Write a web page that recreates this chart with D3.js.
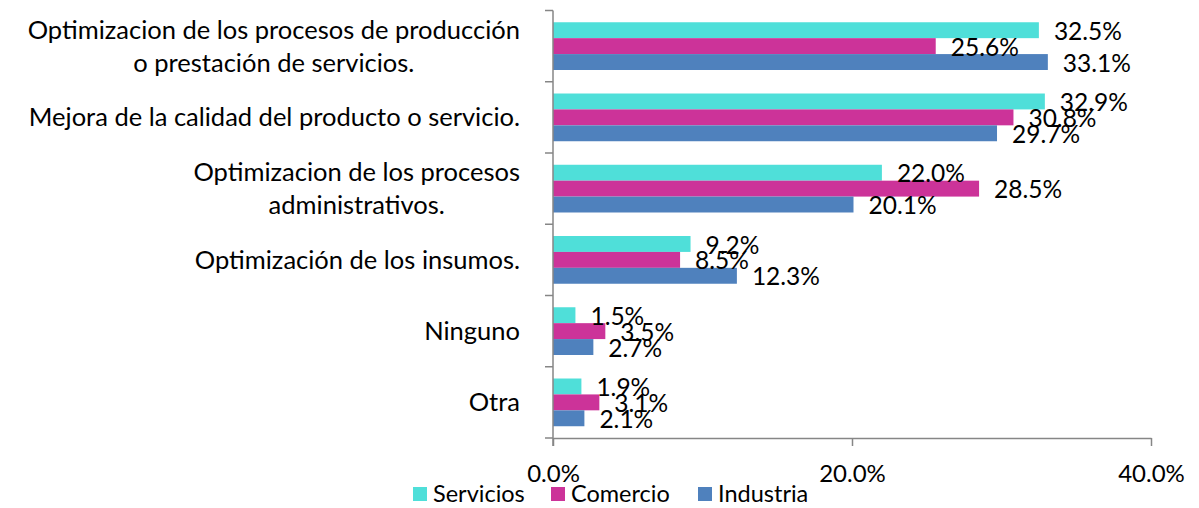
<!DOCTYPE html>
<html>
<head>
<meta charset="utf-8">
<script src="https://cdn.jsdelivr.net/npm/d3@7/dist/d3.min.js"></script>
<style>
  html, body { margin: 0; padding: 0; background: #fff; }
  svg { display: block; font-family: Lato, "Open Sans", sans-serif; }
</style>
</head>
<body>
<svg id="chart" width="1199" height="508"></svg>
<script>
const categories = [
  ["Optimizacion de los procesos de producción", "o prestación de servicios."],
  ["Mejora de la calidad del producto o servicio."],
  ["Optimizacion de los procesos", "administrativos."],
  ["Optimización de los insumos."],
  ["Ninguno"],
  ["Otra"]
];
const seriesNames = ["Servicios", "Comercio", "Industria"];
const servicios = [32.5, 32.9, 22.0, 9.2, 1.5, 1.9];
const comercio  = [25.6, 30.8, 28.5, 8.5, 3.5, 3.1];
const industria = [33.1, 29.7, 20.1, 12.3, 2.7, 2.1];
const xTicks = [0, 20, 40];
const colors = ["#4FDFD9", "#CC3399", "#4F81BD"];

(function () {
const seriesValues = [servicios, comercio, industria];
const svg = d3.select("#chart");
const pLeft = 553, pRight = 1151, pTop = 10.5, pBottom = 438;

const x = d3.scaleLinear().domain([0, 40]).range([pLeft, pRight]);
const y = d3.scaleBand().domain(d3.range(categories.length)).range([pTop, pBottom]).paddingInner(0.33).paddingOuter(0.165);
const inner = d3.scaleBand().domain(seriesNames).range([0, y.bandwidth()]);

const axisColor = "#868686";

const groups = svg.append("g").selectAll("g")
  .data(categories.map((c, i) => i))
  .join("g")
  .attr("transform", i => `translate(0,${y(i)})`);

groups.selectAll("rect")
  .data(i => seriesNames.map((s, k) => ({s, k, v: seriesValues[k][i]})))
  .join("rect")
  .attr("x", x(0))
  .attr("y", d => inner(d.s))
  .attr("width", d => x(d.v) - x(0))
  .attr("height", inner.bandwidth())
  .attr("fill", d => colors[d.k]);

const band = (pBottom - pTop) / categories.length;
svg.append("line").attr("x1", pLeft).attr("x2", pLeft).attr("y1", pTop).attr("y2", pBottom + 8)
  .attr("stroke", axisColor).attr("stroke-width", 1.5);
d3.range(categories.length + 1).forEach(i => {
  const yy = pTop + i * band;
  svg.append("line").attr("x1", pLeft - 8).attr("x2", pLeft).attr("y1", yy).attr("y2", yy)
    .attr("stroke", axisColor).attr("stroke-width", 1.5);
});

const xAxis = d3.axisBottom(x).tickValues(xTicks).tickSize(8).tickSizeOuter(0).tickFormat(d => d.toFixed(1) + "%");
const gx = svg.append("g").attr("transform", `translate(0,${pBottom})`).call(xAxis);
gx.select(".domain").attr("stroke", axisColor).attr("stroke-width", 1.5);
gx.selectAll(".tick line").attr("stroke", axisColor).attr("stroke-width", 1.5);
gx.selectAll(".tick text").attr("fill", "#000").attr("font-size", 24).attr("font-family", "Lato")
  .attr("y", 36).attr("dy", "0.35em");

categories.forEach((lines, i) => {
  const cy = y(i) + y.bandwidth() / 2;
  const lh = 33;
  const t = svg.append("text").attr("font-size", 25.5).attr("fill", "#000");
  if (lines.length === 1) {
    t.attr("text-anchor", "end").attr("x", 520).attr("y", cy).attr("dy", "0.35em").text(lines[0]);
  } else {
    t.attr("text-anchor", "middle");
    lines.forEach((ln, j) => {
      t.append("tspan").attr("x", 0).attr("y", cy + (j - (lines.length - 1) / 2) * lh).attr("dy", "0.35em").text(ln);
    });
    const w = t.node().getBBox().width;
    t.selectAll("tspan").attr("x", 520 - w / 2);
  }
});

groups.selectAll("text.val")
  .data(i => seriesNames.map((s, k) => ({s, k, v: seriesValues[k][i]})))
  .join("text")
  .attr("class", "val")
  .attr("x", d => x(d.v) + 15)
  .attr("y", d => inner(d.s) + inner.bandwidth() / 2 + 1)
  .attr("dy", "0.35em")
  .attr("font-size", 24.5)
  .attr("fill", "#000")
  .text(d => d.v.toFixed(1) + "%");

const legendX = [413, 551, 698];
const lg = svg.append("g");
seriesNames.forEach((s, k) => {
  lg.append("rect").attr("x", legendX[k]).attr("y", 487).attr("width", 14).attr("height", 14).attr("fill", colors[k]);
  lg.append("text").attr("x", legendX[k] + 20).attr("y", 494).attr("dy", "0.35em")
    .attr("font-size", 23.5).attr("fill", "#000").text(s);
});
})();
</script>
</body>
</html>
